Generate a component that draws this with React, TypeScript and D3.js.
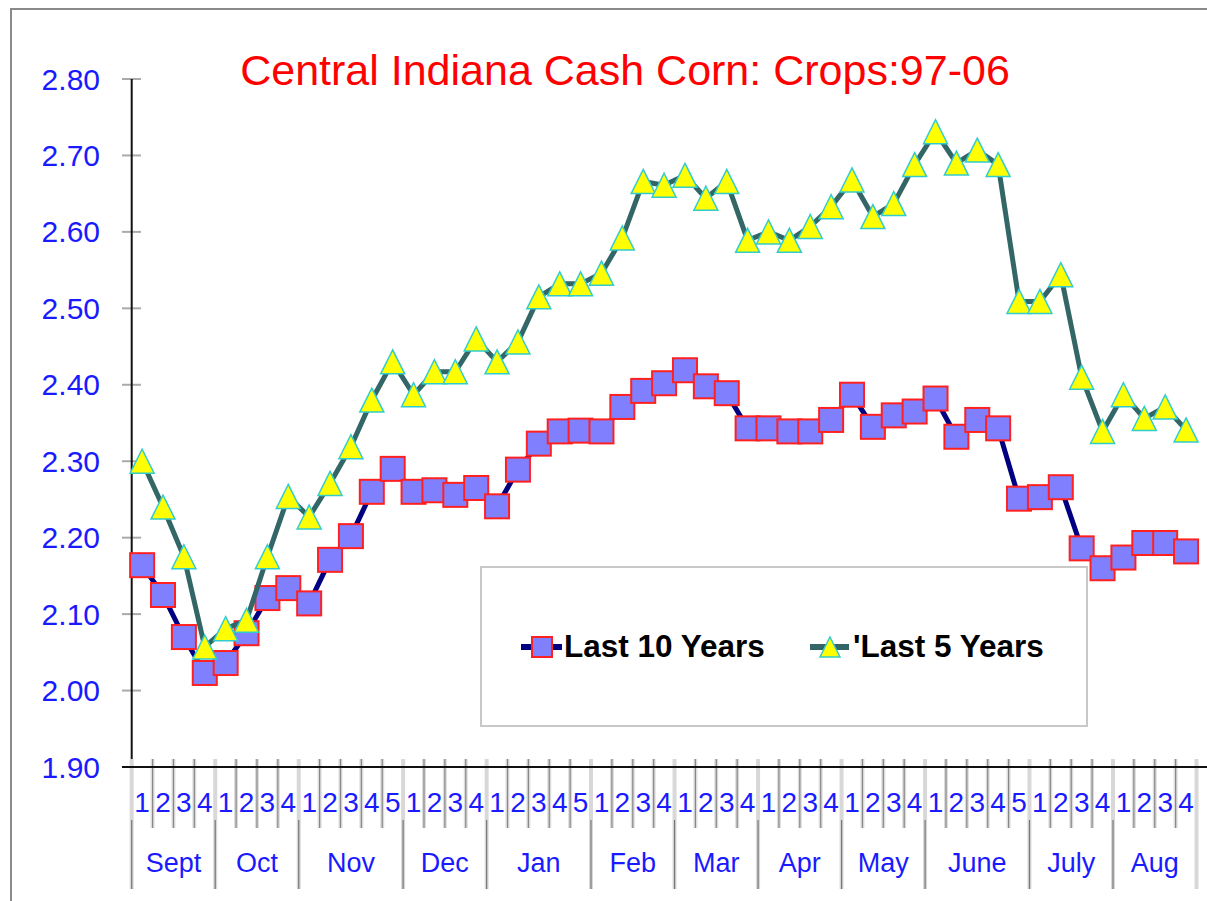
import React from 'react';
import * as d3 from 'd3';

const months = ['Sept', 'Oct', 'Nov', 'Dec', 'Jan', 'Feb', 'Mar', 'Apr', 'May', 'June', 'July', 'Aug'];
const weeksPerMonth = [4, 4, 5, 4, 5, 4, 4, 4, 4, 5, 4, 4];

const last10 = [
  2.164, 2.125, 2.07, 2.023,
  2.036, 2.075, 2.121, 2.134,
  2.114, 2.171, 2.202, 2.26, 2.29,
  2.26, 2.262, 2.256, 2.265,
  2.241, 2.289, 2.323, 2.339, 2.34,
  2.339, 2.371, 2.392, 2.402,
  2.419, 2.398, 2.389, 2.343,
  2.343, 2.339, 2.339, 2.354,
  2.387, 2.345, 2.36, 2.365,
  2.382, 2.332, 2.354, 2.343, 2.251,
  2.253, 2.266, 2.186, 2.16,
  2.174, 2.193, 2.193, 2.182
];

const last5 = [
  2.3, 2.24, 2.175, 2.057,
  2.081, 2.092, 2.175, 2.254,
  2.227, 2.271, 2.319, 2.38, 2.43,
  2.387, 2.417, 2.417, 2.46,
  2.43, 2.456, 2.515, 2.532, 2.532,
  2.546, 2.592, 2.666, 2.661,
  2.674, 2.644, 2.666, 2.589,
  2.6, 2.589, 2.607, 2.633,
  2.668, 2.62, 2.637, 2.688,
  2.731, 2.69, 2.707, 2.688, 2.509,
  2.509, 2.544, 2.41, 2.339,
  2.387, 2.356, 2.371, 2.341
];

const yTicks = [1.9, 2.0, 2.1, 2.2, 2.3, 2.4, 2.5, 2.6, 2.7, 2.8];

const font = '"Liberation Sans", Arial, sans-serif';
const blue = '#1a1aff';

export default function App() {
  const width = 1207, height = 901;
  const left = 131.7, right = 1196.5, top = 79, bottom = 767;

  // week slots, one per data point
  const weeks: { month: number; week: number }[] = [];
  weeksPerMonth.forEach((n, m) => {
    for (let w = 1; w <= n; w++) weeks.push({ month: m, week: w });
  });

  const x = d3.scaleBand<number>().domain(d3.range(weeks.length)).range([left, right]).padding(0);
  const y = d3.scaleLinear().domain([1.9, 2.8]).range([bottom, top]);
  const cx = (i: number) => (x(i) as number) + x.bandwidth() / 2;

  const line = d3.line<number>().x((d, i) => cx(i)).y(d => y(d));

  // month start indices
  const monthStarts: number[] = [];
  let acc = 0;
  weeksPerMonth.forEach(n => {
    monthStarts.push(acc);
    acc += n;
  });

  const sq = 24;
  const tri = (px: number, py: number, s: number) =>
    `M${px},${py - s / 2}L${px + s / 2},${py + s / 2}L${px - s / 2},${py + s / 2}Z`;

  return (
    <svg width={width} height={height} style={{ position: 'absolute', left: 0, top: 0, background: '#fff' }}>
      {/* outer frame */}
      <path d={`M11,${height}V9H${width}`} fill="none" stroke="#8a8a8a" strokeWidth={2} />

      <text x={625} y={85} textAnchor="middle" fill="#ff0000" fontFamily={font} fontSize={43}>
        Central Indiana Cash Corn: Crops:97-06
      </text>

      {/* y axis */}
      {yTicks.map(t => (
        <g key={t}>
          <line x1={122} x2={141} y1={y(t)} y2={y(t)} stroke="#aaa" strokeWidth={2} />
          <text x={100} y={y(t) + 10.5} textAnchor="end" fill={blue} fontFamily={font} fontSize={30}>
            {t.toFixed(2)}
          </text>
        </g>
      ))}
      <line x1={left} x2={left} y1={top} y2={bottom} stroke="#111" strokeWidth={2} />

      {/* x axis categories */}
      {weeks.map((w, i) => {
        const x0 = x(i) as number;
        const isMonth = w.week === 1;
        return (
          <g key={i}>
            {isMonth ? (
              <g>
                <line x1={x0} x2={x0} y1={759} y2={820} stroke="#d8d8d8" strokeWidth={4} />
                <line x1={x0} x2={x0} y1={820} y2={889} stroke="#d8d8d8" strokeWidth={4} />
                <line x1={x0} x2={x0} y1={820} y2={889} stroke="#777" strokeWidth={1.2} />
              </g>
            ) : (
              <g>
                <line x1={x0} x2={x0} y1={759} y2={828} stroke="#dcdcdc" strokeWidth={4} />
                <line x1={x0} x2={x0} y1={759} y2={828} stroke="#888" strokeWidth={1.2} />
              </g>
            )}
            <text x={cx(i)} y={812} textAnchor="middle" fill={blue} fontFamily={font} fontSize={28}>
              {w.week}
            </text>
          </g>
        );
      })}
      <line x1={right} x2={right} y1={759} y2={889} stroke="#d8d8d8" strokeWidth={4} />
      {months.map((m, k) => {
        const s = monthStarts[k];
        const e = s + weeksPerMonth[k] - 1;
        const mid = ((x(s) as number) + (x(e) as number) + x.bandwidth()) / 2;
        return (
          <text key={m} x={mid} y={872} textAnchor="middle" fill={blue} fontFamily={font} fontSize={27}>
            {m}
          </text>
        );
      })}
      <line x1={122} x2={width} y1={bottom} y2={bottom} stroke="#111" strokeWidth={2} />

      {/* legend box */}
      <rect x={481} y={567} width={606} height={159} fill="#fff" stroke="#c8c8c8" strokeWidth={2} />
      <line x1={521} x2={562} y1={647} y2={647} stroke="#000080" strokeWidth={6} />
      <rect x={532} y={637} width={20} height={20} fill="#8080ff" stroke="#ff2020" strokeWidth={2} />
      <text x={564} y={657} fill="#000" fontFamily={font} fontWeight="bold" fontSize={31.5}>
        Last 10 Years
      </text>
      <line x1={810} x2={849} y1={647} y2={647} stroke="#336666" strokeWidth={6} />
      <path d={tri(830, 647, 20)} fill="#ffff00" stroke="#33cccc" strokeWidth={1.5} />
      <text x={853} y={657} fill="#000" fontFamily={font} fontWeight="bold" fontSize={31.5}>
        'Last 5 Years
      </text>

      {/* series: last 10 years */}
      <path d={line(last10) || ''} fill="none" stroke="#000080" strokeWidth={5} strokeLinejoin="round" />
      {last10.map((v, i) => (
        <rect
          key={i}
          x={cx(i) - sq / 2}
          y={y(v) - sq / 2}
          width={sq}
          height={sq}
          fill="#8080ff"
          stroke="#ff2020"
          strokeWidth={2}
        />
      ))}

      {/* series: last 5 years */}
      <path d={line(last5) || ''} fill="none" stroke="#336666" strokeWidth={5} strokeLinejoin="round" />
      {last5.map((v, i) => (
        <path key={i} d={tri(cx(i), y(v), 24)} fill="#ffff00" stroke="#33cccc" strokeWidth={1.5} />
      ))}
    </svg>
  );
}
